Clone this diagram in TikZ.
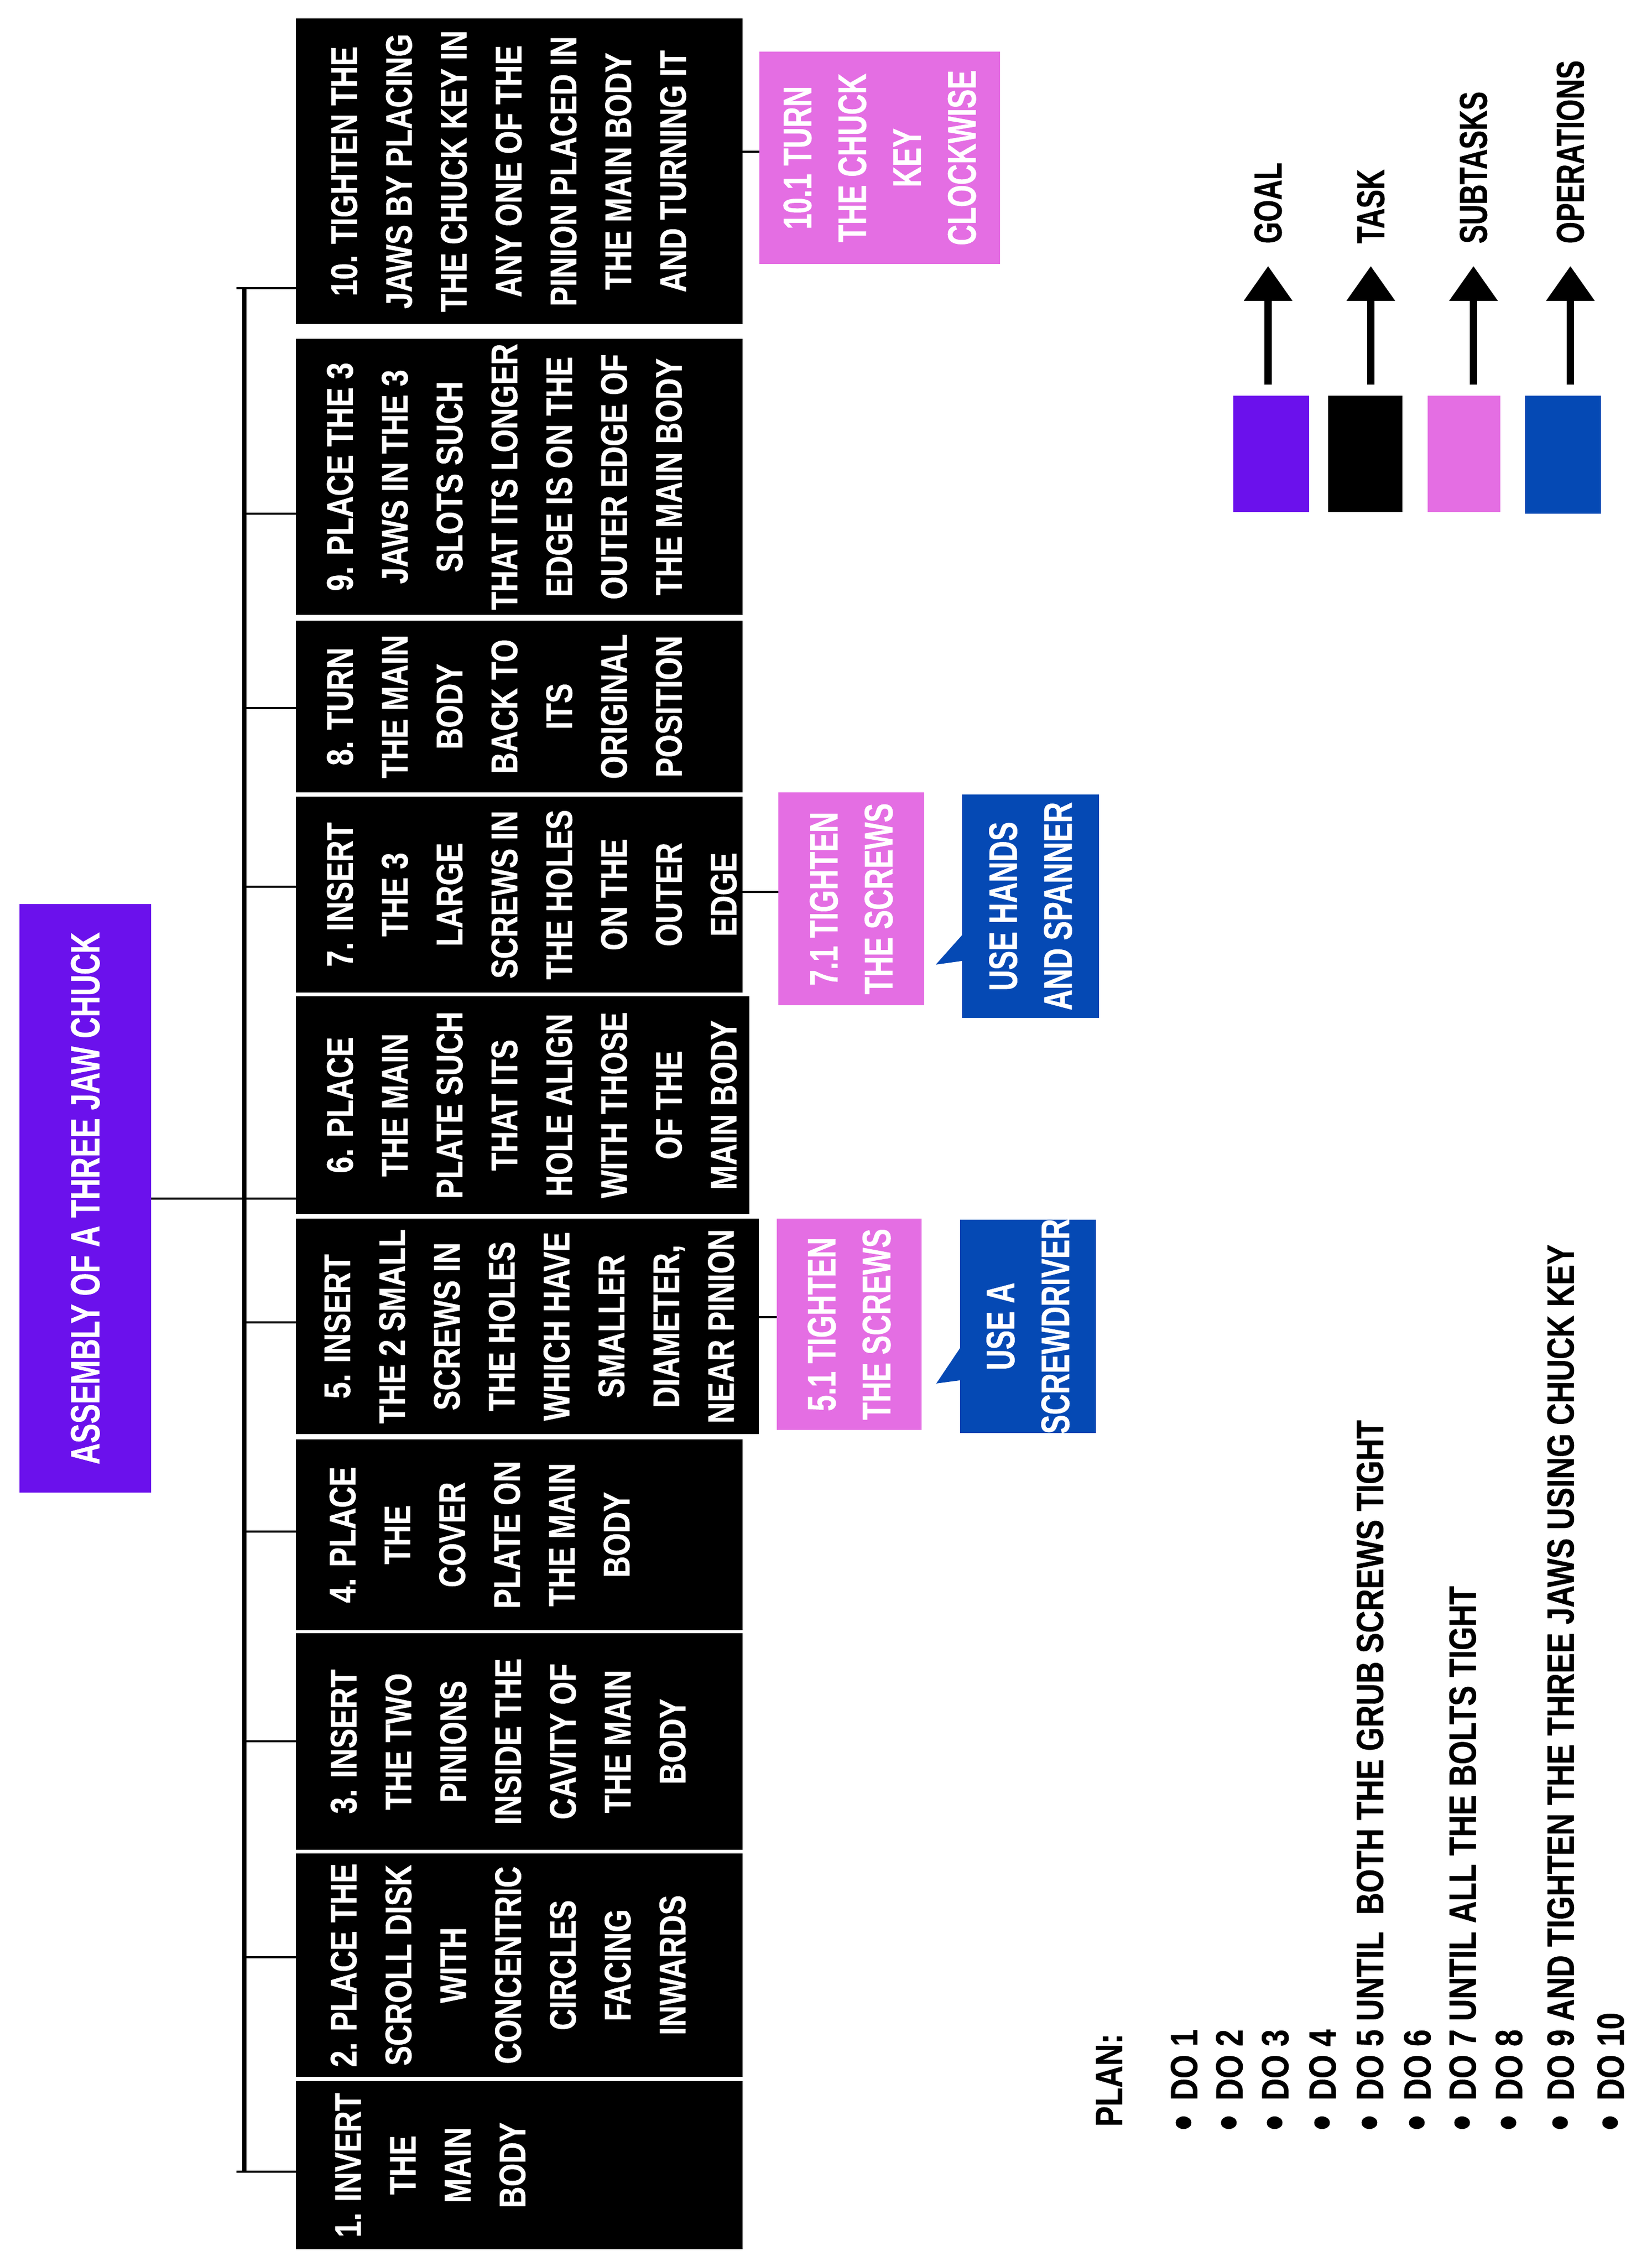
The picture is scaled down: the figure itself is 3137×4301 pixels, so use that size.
\documentclass[tikz,border=0pt]{standalone}
\usepackage{fontspec}
\usetikzlibrary{arrows.meta,calc}
\newfontfamily\fA{Liberation Sans}[FakeStretch=0.8, BoldFeatures={FakeBold=0.6}]
\newfontfamily\fB{Liberation Sans}[FakeStretch=0.72, BoldFeatures={FakeBold=0.6}]
\definecolor{goalc}{RGB}{107,17,236}
\definecolor{subc}{RGB}{228,110,227}
\definecolor{opc}{RGB}{5,73,180}
\newcommand{\bigbul}{\raisebox{-2.2pt}{\fontsize{29}{30}\selectfont\textbullet}}
\tikzset{
  box/.style={inner sep=0pt, outer sep=0pt, draw=none},
  taskbox/.style={box, fill=black},
  goalbox/.style={box, fill=goalc},
  subbox/.style={box, fill=subc},
  opbox/.style={box, fill=opc},
  tasktext/.style={rotate=90, anchor=north, inner sep=0pt, align=center, text=white,
    font=\fA\bfseries\fontsize{20}{29.6}\selectfont},
  boxtext/.style={rotate=90, inner sep=0pt, align=center, text=white,
    font=\fB\bfseries\fontsize{21.5}{29.6}\selectfont},
  link/.style={line width=1.15pt, black},
  bus/.style={line width=2.4pt, black},
  legarrow/.style={line width=3.8pt, -{Triangle[width=0.89cm,length=0.66cm]}},
  legtext/.style={rotate=90, anchor=west, inner sep=0pt,
    font=\fB\bfseries\fontsize{21}{25}\selectfont},
  plantext/.style={rotate=90, anchor=west, inner sep=0pt,
    font=\fA\bfseries\fontsize{20.5}{25}\selectfont}
}
\begin{document}
\begin{tikzpicture}[x=0.01cm, y=-0.01cm]
\fill[white] (0,0) rectangle (3137,4301);
\useasboundingbox (0,0) rectangle (3137,4301);

% goal
\node[goalbox, minimum width=2.50cm, minimum height=11.17cm] (goal) at (162,2274.5) {};
\node[boxtext, font=\fB\bfseries\fontsize{22}{26}\selectfont] (goalx) at (goal.center) {ASSEMBLY OF A THREE JAW CHUCK};

% task boxes
\node[taskbox, minimum width=8.48cm, minimum height=5.80cm] (t10) at (986,325) {};
\node[taskbox, minimum width=8.48cm, minimum height=5.24cm] (t9) at (986,905) {};
\node[taskbox, minimum width=8.48cm, minimum height=3.26cm] (t8) at (986,1341) {};
\node[taskbox, minimum width=8.48cm, minimum height=3.72cm] (t7) at (986,1698) {};
\node[taskbox, minimum width=8.61cm, minimum height=4.13cm] (t6) at (992.5,2097.5) {};
\node[taskbox, minimum width=8.79cm, minimum height=4.09cm] (t5) at (1001.5,2517.5) {};
\node[taskbox, minimum width=8.48cm, minimum height=3.62cm] (t4) at (986,2913) {};
\node[taskbox, minimum width=8.48cm, minimum height=4.11cm] (t3) at (986,3305.5) {};
\node[taskbox, minimum width=8.48cm, minimum height=4.24cm] (t2) at (986,3730) {};
\node[taskbox, minimum width=8.48cm, minimum height=3.19cm] (t1) at (986,4109.5) {};

\node[tasktext] (t10x) at (628,325) {10. TIGHTEN THE\\JAWS BY PLACING\\THE CHUCK KEY IN\\ANY ONE OF THE\\PINION PLACED IN\\THE MAIN BODY\\AND TURNING IT};
\node[tasktext] (t9x) at (620,905) {9. PLACE THE 3\\JAWS IN THE 3\\SLOTS SUCH\\THAT ITS LONGER\\EDGE IS ON THE\\OUTER EDGE OF\\THE MAIN BODY};
\node[tasktext] (t8x) at (620,1341) {8. TURN\\THE MAIN\\BODY\\BACK TO\\ITS\\ORIGINAL\\POSITION};
\node[tasktext] (t7x) at (620,1698) {7. INSERT\\THE 3\\LARGE\\SCREWS IN\\THE HOLES\\ON THE\\OUTER\\EDGE};
\node[tasktext] (t6x) at (620,2097.5) {6. PLACE\\THE MAIN\\PLATE SUCH\\THAT ITS\\HOLE ALIGN\\WITH THOSE\\OF THE\\MAIN BODY};
\node[tasktext] (t5x) at (615,2517.5) {5. INSERT\\THE 2 SMALL\\SCREWS IN\\THE HOLES\\WHICH HAVE\\SMALLER\\DIAMETER,\\NEAR PINION};
\node[tasktext] (t4x) at (625,2913) {4. PLACE\\THE\\COVER\\PLATE ON\\THE MAIN\\BODY};
\node[tasktext] (t3x) at (627,3305.5) {3. INSERT\\THE TWO\\PINIONS\\INSIDE THE\\CAVITY OF\\THE MAIN\\BODY};
\node[tasktext] (t2x) at (627,3730) {2. PLACE THE\\SCROLL DISK\\WITH\\CONCENTRIC\\CIRCLES\\FACING\\INWARDS};
\node[tasktext] (t1x) at (636,4109.5) {1. INVERT\\THE\\MAIN\\BODY};

% bus and links
\coordinate (btop) at (449,547);
\coordinate (bbot) at (449,4122);
\coordinate (bus1) at (464,547);
\coordinate (bus2) at (464,4122);
\draw[bus] (bus1) -- (bus2);
\coordinate (c9) at (464,975);
\coordinate (c8) at (464,1344);
\coordinate (c7) at (464,1683);
\coordinate (c5) at (464,2510);
\coordinate (c4) at (464,2907);
\coordinate (c3) at (464,3305);
\coordinate (c2) at (464,3715);
\draw[link] (btop) -- (btop -| t10.west);
\draw[link] (c9) -- (c9 -| t9.west);
\draw[link] (c8) -- (c8 -| t8.west);
\draw[link] (c7) -- (c7 -| t7.west);
\draw[link] (goal.east) -- (goal.east -| t6.west);
\draw[link] (c5) -- (c5 -| t5.west);
\draw[link] (c4) -- (c4 -| t4.west);
\draw[link] (c3) -- (c3 -| t3.west);
\draw[link] (c2) -- (c2 -| t2.west);
\draw[link] (bbot) -- (bbot -| t1.west);

% subtasks
\node[subbox, minimum width=4.57cm, minimum height=4.03cm] (s10) at (1670.5,299.5) {};
\node[subbox, minimum width=2.77cm, minimum height=4.04cm] (s7) at (1616.5,1706) {};
\node[subbox, minimum width=2.75cm, minimum height=4.01cm] (s5) at (1612.5,2513.5) {};
\node[boxtext] (s10x) at (s10.center) {10.1 TURN\\THE CHUCK\\KEY\\CLOCKWISE};
\node[boxtext] (s7x) at (s7.center) {7.1 TIGHTEN\\THE SCREWS};
\node[boxtext] (s5x) at (s5.center) {5.1 TIGHTEN\\THE SCREWS};
\coordinate (k10) at (1410,288);
\coordinate (k7) at (1410,1693);
\coordinate (k5) at (1441,2500);
\draw[link] (k10) -- (k10 -| s10.west);
\draw[link] (k7) -- (k7 -| s7.west);
\draw[link] (k5) -- (k5 -| s5.west);

% operations
\node[opbox, minimum width=2.60cm, minimum height=4.24cm] (o7) at (1957,1720) {};
\node[opbox, minimum width=2.58cm, minimum height=4.05cm] (o5) at (1952,2517.5) {};
\fill[opc] ($(o7.north west)+(0,267)$) -- ($(o7.north west)+(-50,323)$) -- ($(o7.north west)+(0,316)$) -- cycle;
\fill[opc] ($(o5.north west)+(0,244)$) -- ($(o5.north west)+(-45,311)$) -- ($(o5.north west)+(0,305)$) -- cycle;
\node[boxtext] (o7x) at (o7.center) {USE HANDS\\AND SPANNER};
\node[boxtext] (o5x) at (o5.center) {USE A\\SCREWDRIVER};

% legend
\node[goalbox, minimum width=1.44cm, minimum height=2.21cm] (l1) at (2414,861.5) {};
\node[taskbox, minimum width=1.41cm, minimum height=2.21cm] (l2) at (2592.5,861.5) {};
\node[subbox, minimum width=1.38cm, minimum height=2.21cm] (l3) at (2780,861.5) {};
\node[opbox, minimum width=1.44cm, minimum height=2.24cm] (l4) at (2968,863) {};
\node[legtext] (g1) at (2408,463) {GOAL};
\node[legtext] (g2) at (2603,463) {TASK};
\node[legtext] (g3) at (2798,463) {SUBTASKS};
\node[legtext] (g4) at (2982,463) {OPERATIONS};
\draw[legarrow, shorten >=0.42cm] ([yshift=0.21cm]g1.west |- l1.north) -- (g1.west);
\draw[legarrow, shorten >=0.42cm] ([yshift=0.21cm]g2.west |- l2.north) -- (g2.west);
\draw[legarrow, shorten >=0.42cm] ([yshift=0.21cm]g3.west |- l3.north) -- (g3.west);
\draw[legarrow, shorten >=0.42cm] ([yshift=0.21cm]g4.west |- l4.north) -- (g4.west);

% plan
\node[plantext] (plan) at (2106,4037) {PLAN:};
\node[plantext] (p1) at (2252,4044) {\bigbul\hspace{8pt}DO 1};
\node[plantext] (p2) at (2338,4044) {\bigbul\hspace{8pt}DO 2};
\node[plantext] (p3) at (2425,4044) {\bigbul\hspace{8pt}DO 3};
\node[plantext] (p4) at (2515,4044) {\bigbul\hspace{8pt}DO 4};
\node[plantext] (p5) at (2605,4044) {\bigbul\hspace{8pt}DO 5 UNTIL\ \ BOTH THE GRUB SCREWS TIGHT};
\node[plantext] (p6) at (2695,4044) {\bigbul\hspace{8pt}DO 6};
\node[plantext] (p7) at (2781,4044) {\bigbul\hspace{8pt}DO 7 UNTIL ALL THE BOLTS TIGHT};
\node[plantext] (p8) at (2869,4044) {\bigbul\hspace{8pt}DO 8};
\node[plantext] (p9) at (2967,4044) {\bigbul\hspace{8pt}DO 9 AND TIGHTEN THE THREE JAWS USING CHUCK KEY};
\node[plantext] (p10) at (3062,4044) {\bigbul\hspace{8pt}DO 10};
\end{tikzpicture}
\end{document}
